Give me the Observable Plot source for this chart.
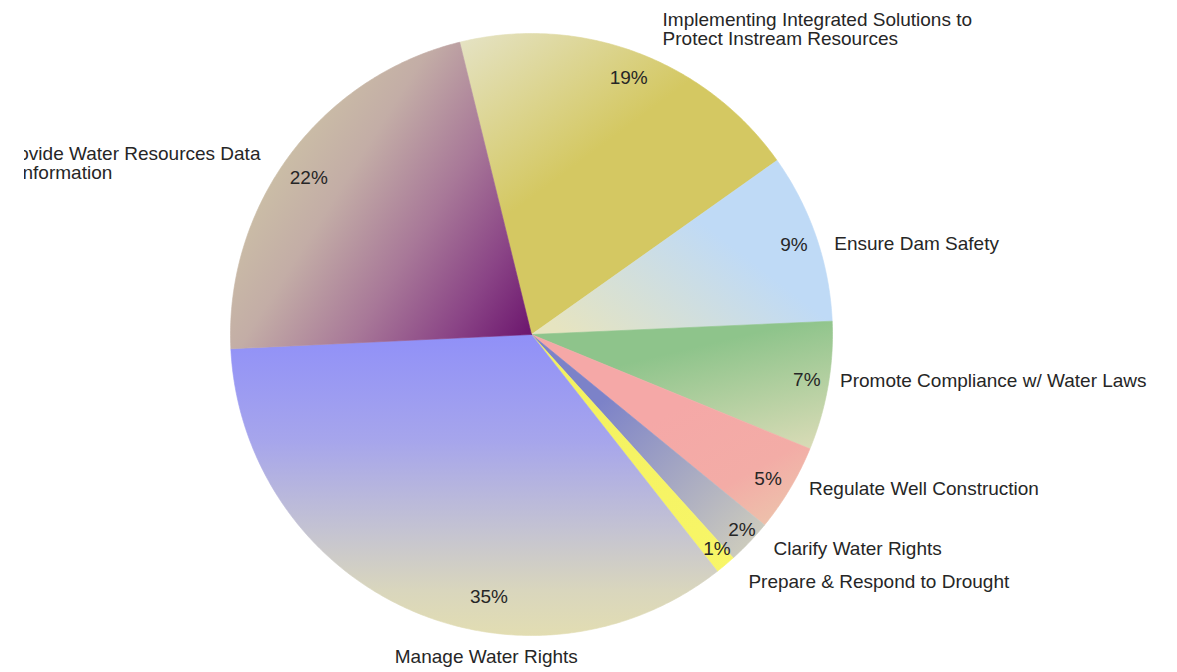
<!DOCTYPE html>
<html>
<head>
<meta charset="utf-8">
<script src="https://cdn.jsdelivr.net/npm/d3@7"></script>
<script src="https://cdn.jsdelivr.net/npm/@observablehq/plot@0.6"></script>
<style>
  html, body { margin: 0; padding: 0; background: #ffffff; }
</style>
</head>
<body>
<div id="chart"></div>
<script>
// ---- data ----
const categories = [
  "Implementing Integrated Solutions to\nProtect Instream Resources",
  "Ensure Dam Safety",
  "Promote Compliance w/ Water Laws",
  "Regulate Well Construction",
  "Clarify Water Rights",
  "Prepare & Respond to Drought",
  "Manage Water Rights",
  "Provide Water Resources Data\n& Information"
];
const shares = [19.0, 9.1, 6.9, 4.7, 2.4, 1.1, 34.8, 21.9];
const startDeg = -13.8;

// ---- styles (gradient fills per slice) ----
const gradients = [
  {x1: 0.0, y1: 0.0, x2: 0.35, y2: 0.45, stops: [[0, "#e5e3c6"], [1, "#d4c862"]]},
  {x1: 0.0, y1: 0.85, x2: 0.6, y2: 0.4, stops: [[0, "#e6e4c0"], [1, "#bfdaf6"]]},
  {x1: 0.55, y1: 0.2, x2: 1.0, y2: 1.0, stops: [[0, "#8ec48b"], [1, "#dcdcb8"]]},
  {x1: 0.5, y1: 0.4, x2: 1.0, y2: 1.0, stops: [[0, "#f5a8a7"], [0.55, "#f3aca6"], [1, "#ebc9ad"]]},
  {x1: 0.3, y1: 0.3, x2: 1.0, y2: 1.0, stops: [[0, "#7c82c8"], [1, "#d4d2bc"]]},
  {x1: 0.0, y1: 0.0, x2: 1.0, y2: 1.0, stops: [[0, "#f2f05e"], [1, "#f8f668"]]},
  {x1: 0.0, y1: 0.0, x2: 0.0, y2: 1.0, stops: [[0, "#9090f8"], [0.35, "#a6a5ec"], [0.65, "#c4c3d2"], [0.85, "#d9d6bd"], [1, "#e2ddb2"]]},
  {x1: 1.0, y1: 0.95, x2: 0.15, y2: 0.4, stops: [[0, "#6c166e"], [0.22, "#8a4486"], [0.48, "#a87898"], [0.78, "#c3ada6"], [1, "#cbbea6"]]}
];
const textColor = "#262626";
const fontFamily = "'Liberation Sans', Arial, Helvetica, sans-serif";

// label layout nudges (pixels) relative to slice mid-angle anchors
const pctNudge = [[1, 1], [2, 0], [4, -2], [0, 3], [11, 6], [8, 4], [72, 12], [-2, 8]];
const catNudge = [[26, -23], [18, 7], [12, -5], [19, 0], [24, 7], [23, 17], [80, 49], [-291, 9]];
const catAnchor = ["start", "start", "start", "start", "start", "start", "middle", "start"];

// ---- build pie geometry with d3.pie ----
const total = d3.sum(shares);
const a0 = startDeg * Math.PI / 180;
const pie = d3.pie().sort(null).value(d => d).startAngle(a0).endAngle(a0 + 2 * Math.PI);
const slices = pie(shares).map((a, i) => ({
  key: categories[i],
  pct: Math.round(a.value / total * 100) + "%",
  a0: a.startAngle,
  a1: a.endAngle,
  mid: (a.startAngle + a.endAngle) / 2,
  grad: `url(#g${i})`
}));

const pts = slices.flatMap(s => {
  const n = Math.max(2, Math.ceil((s.a1 - s.a0) / (Math.PI / 360)));
  const arr = [{key: s.key, grad: s.grad, x: 0, y: 0}];
  for (let k = 0; k <= n; k++) {
    const t = s.a0 + (s.a1 - s.a0) * k / n;
    arr.push({key: s.key, grad: s.grad, x: Math.sin(t), y: Math.cos(t)});
  }
  arr.push({key: s.key, grad: s.grad, x: 0, y: 0});
  return arr;
});

const marks = [
  Plot.line(pts, {x: "x", y: "y", z: "key", fill: "grad", stroke: "grad", strokeWidth: 0.6, curve: "linear"}),
  ...slices.map((s, i) => Plot.text([s], {
    x: d => 0.915 * Math.sin(d.mid),
    y: d => 0.915 * Math.cos(d.mid),
    text: "pct",
    dx: pctNudge[i][0], dy: pctNudge[i][1],
    fontSize: 19, fill: textColor
  })),
  ...slices.map((s, i) => Plot.text([s], {
    x: d => Math.sin(d.mid),
    y: d => Math.cos(d.mid),
    text: "key",
    textAnchor: catAnchor[i],
    lineAnchor: "middle",
    lineHeight: 1.0,
    dx: catNudge[i][0], dy: catNudge[i][1],
    fontSize: 19, fill: textColor,
    ...(i === 7 ? {clip: "frame"} : {})
  }))
];

const chart = Plot.plot({
  width: 1177,
  height: 672,
  marginLeft: 24, marginRight: 0, marginTop: 0, marginBottom: 0,
  x: {domain: [-1, 1], range: [230, 832], axis: null},
  y: {domain: [-1, 1], range: [635, 33], axis: null},
  color: {type: "identity"},
  style: {fontFamily, background: "#ffffff", color: textColor},
  marks
});

const defs = d3.select(chart).insert("defs", ":first-child");
gradients.forEach((g, i) => {
  const lg = defs.append("linearGradient")
    .attr("id", "g" + i)
    .attr("x1", g.x1).attr("y1", g.y1).attr("x2", g.x2).attr("y2", g.y2);
  g.stops.forEach(([o, c]) => lg.append("stop").attr("offset", o).attr("stop-color", c));
});

document.getElementById("chart").appendChild(chart);
</script>
</body>
</html>
